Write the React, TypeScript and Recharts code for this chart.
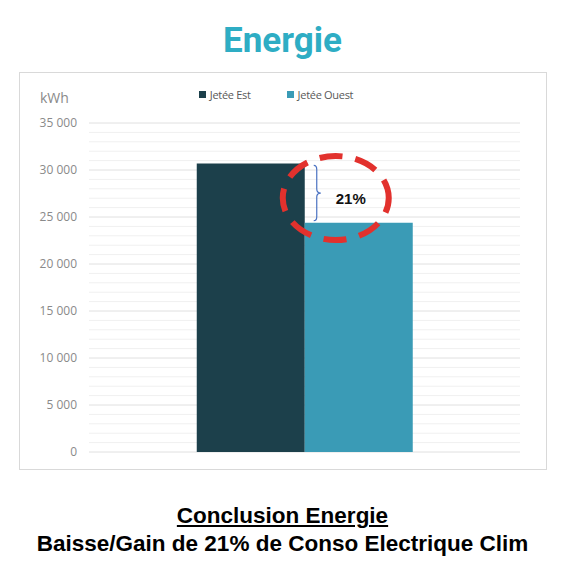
// Graphique Energie : Jetée Est vs Jetée Ouest
import { BarChart, Bar, XAxis, YAxis, CartesianGrid, Legend } from 'recharts';

const categories = ['Clim'];
const jeteeEst = [30700];
const jeteeOuest = [24400];
const yTicks = [0, 5000, 10000, 15000, 20000, 25000, 30000, 35000];
const minorTicks = [1000, 2000, 3000, 4000, 6000, 7000, 8000, 9000, 11000, 12000, 13000, 14000, 16000, 17000, 18000, 19000, 21000, 22000, 23000, 24000, 26000, 27000, 28000, 29000, 31000, 32000, 33000, 34000];
const gainLabel = '21%';

const EST_COLOR = '#1c404b';
const OUEST_COLOR = '#3a9bb6';
const AXIS_FONT = '"Open Sans", sans-serif';

const chartData = categories.map((name, i) => ({
    name,
    est: jeteeEst[i],
    ouest: jeteeOuest[i],
}));

const formatTick = (v: number) => (v === 0 ? '0' : `${Math.floor(v / 1000)} ${String(v % 1000).padStart(3, '0')}`);

// annotation posée sur la barre Ouest : accolade + cercle pointillé
function GainLabel(props: any) {
    const { x, y, height, value, index } = props;
    if (!height || !value) return null;
    const perUnit = height / value;
    const estTop = y + height - jeteeEst[index] * perUnit;
    const bx = x + 12;
    const mid = (estTop + y) / 2;
    const top = estTop + 2;
    const bottom = y - 2;
    const brace = `M${bx - 3},${top} Q${bx},${top} ${bx},${top + 4} L${bx},${mid - 4} Q${bx},${mid} ${bx + 4},${mid} Q${bx},${mid} ${bx},${mid + 4} L${bx},${bottom - 4} Q${bx},${bottom} ${bx - 3},${bottom}`;
    return (
        <g>
            <path d={brace} fill="none" stroke="#4a72c2" strokeWidth={1.2} />
            <text
                x={x + 46}
                y={mid + 5}
                textAnchor="middle"
                dominantBaseline="central"
                fontFamily='"Liberation Sans", Arial, sans-serif'
                fontWeight="bold"
                fontSize={15}
                fill="#111"
            >
                {gainLabel}
            </text>
            <ellipse
                cx={x + 31}
                cy={mid + 5}
                rx={53}
                ry={42}
                fill="none"
                stroke="#e2312d"
                strokeWidth={6}
                strokeDasharray="23 13"
                strokeDashoffset={8}
            />
        </g>
    );
}

function LegendContent() {
    const items = [
        { label: 'Jetée Est', color: EST_COLOR },
        { label: 'Jetée Ouest', color: OUEST_COLOR },
    ];
    return (
        <div style={{ display: 'flex', justifyContent: 'center', gap: 36, paddingLeft: 12, fontFamily: AXIS_FONT, fontSize: 11, color: '#595959', letterSpacing: -0.3 }}>
            {items.map(it => (
                <span key={it.label} style={{ display: 'flex', alignItems: 'center', gap: 4 }}>
                    <span style={{ width: 7, height: 7, background: it.color, display: 'inline-block' }} />
                    {it.label}
                </span>
            ))}
        </div>
    );
}

export default function App() {
    return (
        <div style={{ position: 'absolute', left: 0, top: 0, width: 565, height: 577, background: '#fff' }}>
            <div
                style={{
                    position: 'absolute', top: 20, left: 0, width: 565, textAlign: 'center',
                    fontFamily: 'Roboto, sans-serif', fontWeight: 'bold', fontSize: 35, color: '#2eadc4',
                }}
            >
                Energie
            </div>
            <div
                style={{
                    position: 'absolute', left: 19, top: 72, width: 528, height: 398,
                    border: '1px solid #d9d9d9', boxSizing: 'border-box',
                }}
            >
                <BarChart
                    width={526}
                    height={396}
                    data={chartData}
                    margin={{ top: 30, right: 26, left: 0, bottom: 17 }}
                    barCategoryGap="25%"
                    barGap={0}
                >
                    <CartesianGrid vertical={false} horizontalValues={minorTicks} stroke="#f0f0f0" strokeWidth={1} />
                    <CartesianGrid vertical={false} horizontalValues={yTicks} stroke="#e0e0e0" strokeWidth={1} />
                    <XAxis dataKey="name" hide height={0} />
                    <YAxis
                        width={69}
                        domain={[0, 35000]}
                        ticks={yTicks}
                        interval={0}
                        axisLine={false}
                        tickLine={false}
                        tickMargin={6}
                        tickFormatter={formatTick}
                        tick={{ fill: '#8a8a8a', fontSize: 12, fontFamily: AXIS_FONT }}
                        label={{
                            content: ({ viewBox }: any) => (
                                <text x={viewBox.x + 20} y={viewBox.y - 20} fill="#8a8a8a" fontSize={14} fontFamily={AXIS_FONT}>
                                    kWh
                                </text>
                            ),
                        }}
                    />
                    <Legend verticalAlign="top" height={20} content={<LegendContent />} wrapperStyle={{ top: 14 }} />
                    <Bar dataKey="est" name="Jetée Est" fill={EST_COLOR} isAnimationActive={false} />
                    <Bar dataKey="ouest" name="Jetée Ouest" fill={OUEST_COLOR} isAnimationActive={false} label={<GainLabel />} />
                </BarChart>
            </div>
            <div
                style={{
                    position: 'absolute', top: 502, left: 0, width: 565, textAlign: 'center',
                    fontFamily: '"Liberation Sans", Arial, sans-serif', fontWeight: 'bold', fontSize: 22.5, color: '#000',
                    lineHeight: '28px',
                }}
            >
                <div style={{ textDecoration: 'underline' }}>Conclusion Energie</div>
                <div>Baisse/Gain de 21% de Conso Electrique Clim</div>
            </div>
        </div>
    );
}
